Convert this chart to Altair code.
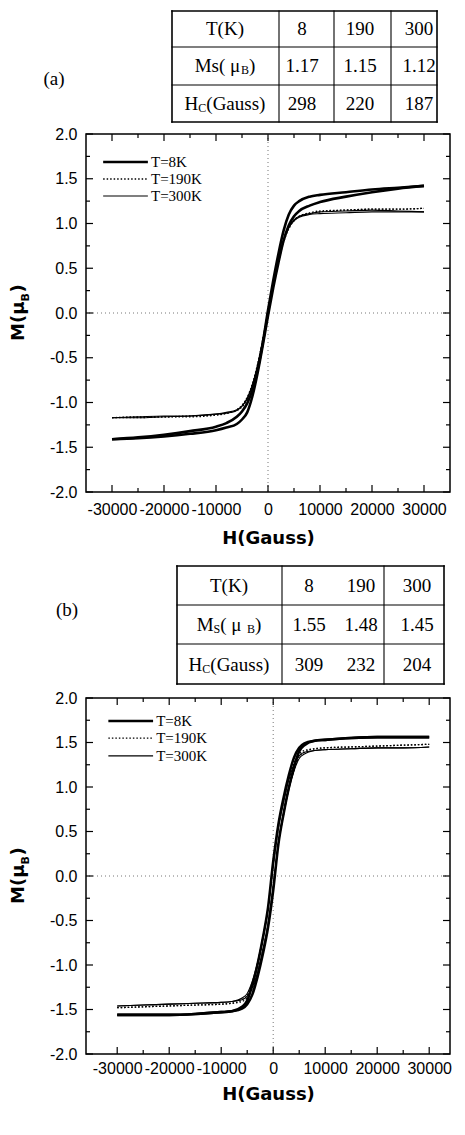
import altair as alt
import pandas as pd

# ---------------- data ----------------
H = [-30000, -25000, -20000, -15000, -10000, -8000, -6000, -5000, -4000, -3000,
     -2000, -1000, 0, 1000, 2000, 3000, 4000, 5000, 6000, 8000, 10000, 15000,
     20000, 25000, 30000]

# panel (a)
A_8K_DESC = [-1.41, -1.39, -1.36, -1.32, -1.27, -1.23, -1.16, -1.10, -1.01, -0.86,
             -0.63, -0.33, 0.03, 0.36, 0.66, 0.92, 1.10, 1.20, 1.25, 1.30, 1.32, 1.35,
             1.38, 1.40, 1.42]
A_8K_ASC = [-1.41, -1.40, -1.38, -1.35, -1.31, -1.28, -1.24, -1.19, -1.11, -0.93,
            -0.67, -0.36, -0.03, 0.28, 0.56, 0.81, 0.98, 1.08, 1.14, 1.20, 1.24, 1.30,
            1.35, 1.39, 1.42]
A_190K_DESC = [-1.17, -1.16, -1.16, -1.15, -1.14, -1.12, -1.08, -1.03, -0.94, -0.79,
               -0.57, -0.29, 0.03, 0.33, 0.60, 0.81, 0.96, 1.04, 1.08, 1.12, 1.14, 1.15,
               1.16, 1.16, 1.17]
A_190K_ASC = [-1.17, -1.17, -1.16, -1.16, -1.14, -1.12, -1.09, -1.05, -0.97, -0.82,
              -0.61, -0.33, -0.03, 0.29, 0.57, 0.79, 0.94, 1.03, 1.08, 1.11, 1.13, 1.15,
              1.16, 1.16, 1.17]
A_300K_DESC = [-1.17, -1.17, -1.16, -1.15, -1.13, -1.12, -1.09, -1.04, -0.95, -0.80,
               -0.58, -0.30, 0.02, 0.33, 0.60, 0.81, 0.96, 1.04, 1.08, 1.11, 1.13, 1.14,
               1.15, 1.14, 1.13]
A_300K_ASC = [-1.17, -1.16, -1.15, -1.15, -1.13, -1.11, -1.08, -1.04, -0.96, -0.81,
              -0.60, -0.33, -0.02, 0.30, 0.58, 0.80, 0.95, 1.03, 1.07, 1.10, 1.11, 1.12,
              1.13, 1.13, 1.13]

# panel (b)
B_8K_DESC = [-1.56, -1.56, -1.56, -1.55, -1.53, -1.52, -1.47, -1.40, -1.22, -0.99,
             -0.70, -0.36, 0.16, 0.58, 0.88, 1.13, 1.33, 1.44, 1.49, 1.52, 1.53, 1.55,
             1.56, 1.56, 1.56]
B_8K_ASC = [-1.56, -1.56, -1.56, -1.55, -1.53, -1.52, -1.49, -1.44, -1.33, -1.13,
            -0.88, -0.58, -0.16, 0.36, 0.70, 0.99, 1.22, 1.40, 1.47, 1.52, 1.53, 1.55,
            1.56, 1.56, 1.56]
B_190K_DESC = [-1.48, -1.47, -1.46, -1.45, -1.44, -1.43, -1.39, -1.34, -1.19, -0.98,
               -0.70, -0.36, 0.13, 0.55, 0.84, 1.09, 1.27, 1.37, 1.41, 1.43, 1.44, 1.45,
               1.46, 1.47, 1.48]
B_190K_ASC = [-1.48, -1.47, -1.46, -1.45, -1.44, -1.43, -1.41, -1.37, -1.27, -1.09,
              -0.84, -0.55, -0.13, 0.36, 0.70, 0.98, 1.19, 1.34, 1.39, 1.43, 1.44, 1.45,
              1.46, 1.47, 1.48]
B_300K_DESC = [-1.46, -1.45, -1.44, -1.43, -1.42, -1.41, -1.37, -1.32, -1.18, -0.97,
               -0.69, -0.36, 0.12, 0.54, 0.83, 1.08, 1.25, 1.35, 1.39, 1.41, 1.42, 1.43,
               1.44, 1.44, 1.45]
B_300K_ASC = [-1.46, -1.45, -1.44, -1.43, -1.42, -1.41, -1.39, -1.35, -1.25, -1.08,
              -0.83, -0.54, -0.12, 0.36, 0.69, 0.97, 1.18, 1.32, 1.37, 1.41, 1.42, 1.43,
              1.44, 1.44, 1.45]

TEMPS = ["8K", "190K", "300K"]
LEG_LABELS = ["T=8K", "T=190K", "T=300K"]
LEG_M_A = [1.687, 1.497, 1.307]
LEG_M_B = [1.742, 1.55, 1.35]
LEG_H = [-31700, -23100, -22500]   # legend line start, line end, text start

X_MAJOR = [-30000, -20000, -10000, 0, 10000, 20000, 30000]
X_MINOR = [-25000, -15000, -5000, 5000, 15000, 25000]
Y_MAJOR = [-2.0, -1.5, -1.0, -0.5, 0.0, 0.5, 1.0, 1.5, 2.0]
Y_MINOR = [-1.75, -1.25, -0.75, -0.25, 0.25, 0.75, 1.25, 1.75]

# tables
TAB_HEAD = ["8", "190", "300"]
TAB_A_MS = ["1.17", "1.15", "1.12"]
TAB_A_HC = ["298", "220", "187"]
TAB_B_MS = ["1.55", "1.48", "1.45"]
TAB_B_HC = ["309", "232", "204"]

# table layout (x: reference-page pixels, y: chart pixels)
TAB_A_COLS = [183, 290, 345, 402, 448]
TAB_A_ROWS = [10, 46, 84, 121]
TAB_A_TX = [236, 313, 371, 430]
TAB_A_TY = [28, 65, 103]
TAB_B_COLS = [188, 293, 395, 455]
TAB_B_ROWS = [565, 604, 643, 683]
TAB_B_TX = [240, 320, 372, 428]
TAB_B_TY = [585, 624, 664]

STYLE = {"8K": {"strokeWidth": 2.6},
         "190K": {"strokeWidth": 1.3, "strokeDash": [1.5, 2]},
         "300K": {"strokeWidth": 1.1}}

PW = 364
SERIF = "Liberation Serif"
TIMES_W = {'T': .611, '(': .333, 'K': .722, ')': .333, 'M': .889, 's': .389, ' ': .25,
           'μ': .576, 'B': .667, 'H': .722, 'C': .667, 'G': .722, 'a': .444, 'u': .5,
           'S': .556}


def curves_frame(series):
    rows = []
    for temp, branches in series.items():
        for branch, vals in branches.items():
            for h, m in zip(H, vals):
                rows.append({"H": h, "M": m, "temp": temp, "branch": temp + branch})
    return pd.DataFrame(rows)


def panel(series, leg_m, height, xdom, label_pad, title_pad):
    xs = alt.Scale(domain=xdom, nice=False, zero=False)
    ys = alt.Scale(domain=[-2, 2], nice=False, zero=False)
    xax = alt.Axis(values=X_MAJOR, title="H(Gauss)", labelExpr="'' + datum.value",
                   ticks=False, tickSize=0, domain=False, grid=False, labelPadding=label_pad,
                   titlePadding=title_pad, labelOverlap=False, labelFlush=False)
    yax = alt.Axis(values=Y_MAJOR, title=None,
                   labelExpr="replace(format(datum.value, '.1f'), '\u2212', '-')",
                   ticks=False, tickSize=0, domain=False, grid=False, labelPadding=9,
                   labelOverlap=False, labelFlush=False)

    def X(f):
        return alt.X(f, type="quantitative", scale=xs, axis=xax)

    def Y(f):
        return alt.Y(f, type="quantitative", scale=ys, axis=yax)

    layers = []
    zero = pd.DataFrame({"v": [0]})
    layers.append(alt.Chart(zero).mark_rule(color="#777", strokeDash=[1, 3], strokeWidth=1)
                  .encode(x=X("v")))
    layers.append(alt.Chart(zero).mark_rule(color="#777", strokeDash=[1, 3], strokeWidth=1)
                  .encode(y=Y("v")))

    for vals, ln in ((X_MAJOR, 7), (X_MINOR, 4)):
        d = pd.DataFrame({"v": vals})
        layers.append(alt.Chart(d).mark_rule(color="black", strokeWidth=1.2)
                      .encode(x=X("v"), y=alt.value(height), y2=alt.value(height - ln)))
        layers.append(alt.Chart(d).mark_rule(color="black", strokeWidth=1.2)
                      .encode(x=X("v"), y=alt.value(0), y2=alt.value(ln)))
    for vals, ln in ((Y_MAJOR, 7), (Y_MINOR, 4)):
        d = pd.DataFrame({"v": vals})
        layers.append(alt.Chart(d).mark_rule(color="black", strokeWidth=1.2)
                      .encode(y=Y("v"), x=alt.value(0), x2=alt.value(ln)))
        layers.append(alt.Chart(d).mark_rule(color="black", strokeWidth=1.2)
                      .encode(y=Y("v"), x=alt.value(PW), x2=alt.value(PW - ln)))

    df = curves_frame(series)
    for t in ["300K", "190K", "8K"]:
        layers.append(alt.Chart(df).transform_filter(alt.datum.temp == t)
                      .mark_line(interpolate="monotone", color="black", **STYLE[t])
                      .encode(x=X("H"), y=Y("M"), detail="branch:N", order="H:Q"))

    leg = pd.DataFrame({"label": LEG_LABELS, "temp": TEMPS, "M": leg_m,
                        "h1": [LEG_H[0]] * 3, "h2": [LEG_H[1]] * 3, "ht": [LEG_H[2]] * 3})
    for t in TEMPS:
        layers.append(alt.Chart(leg).transform_filter(alt.datum.temp == t)
                      .mark_rule(color="black", **STYLE[t])
                      .encode(x=X("h1"), x2=alt.X2("h2"), y=Y("M")))
    layers.append(alt.Chart(leg).mark_text(align="left", baseline="middle", font=SERIF,
                                           fontSize=15, color="black")
                  .encode(x=X("ht"), y=Y("M"), text="label:N"))

    yb = height / 2 + 28
    for txt, fs, dx, dy in (("M(μ", 18, 0, 0), ("B", 11, 39.5, 5), (")", 18, 48.5, 0)):
        layers.append(alt.Chart(pd.DataFrame({"t": [txt]}))
                      .mark_text(angle=270, align="left", baseline="alphabetic",
                                 font="DejaVu Sans", fontWeight="bold", fontSize=fs,
                                 dx=dx, dy=dy, color="black")
                      .encode(text="t:N", x=alt.value(-62), y=alt.value(yb)))
    return alt.layer(*layers).properties(width=PW, height=height)


def seg_rows(cx, cy, segs):
    def w(s, fs):
        return sum(TIMES_W.get(ch, .5) for ch in s) * fs
    total = sum(w(s, fs) for s, fs, dy in segs)
    x = cx - total / 2
    out = []
    for s, fs, dy in segs:
        out.append({"x": x, "y": cy + dy, "text": s, "fs": fs})
        x += w(s, fs)
    return out


def table(cols, rows_, tx, ty, ms_vals, hc_vals, ms_segs, tag, tag_xy, ydom, height):
    sx = alt.Scale(domain=[97, 97 + PW], nice=False, zero=False)
    sy = alt.Scale(domain=ydom, nice=False, zero=False, reverse=True)
    segs = []
    for i, y in enumerate(rows_):
        segs.append({"x": cols[0], "x2": cols[-1], "y": y, "y2": y,
                     "w": 1.6 if i in (0, len(rows_) - 1) else 1.1})
    for j, x in enumerate(cols):
        segs.append({"x": x, "x2": x, "y": rows_[0], "y2": rows_[-1],
                     "w": 1.6 if j in (0, len(cols) - 1) else 1.1})
    lines = alt.Chart(pd.DataFrame(segs)).mark_rule(color="black", strokeCap="square").encode(
        x=alt.X("x:Q", scale=sx, axis=None), x2="x2:Q",
        y=alt.Y("y:Q", scale=sy, axis=None), y2="y2:Q",
        strokeWidth=alt.StrokeWidth("w:Q", scale=None, legend=None))

    centered = [{"x": tx[0], "y": ty[0], "text": "T(K)", "fs": 19},
                {"x": tag_xy[0], "y": tag_xy[1], "text": tag, "fs": 19}]
    for k in range(3):
        centered.append({"x": tx[k + 1], "y": ty[0], "text": TAB_HEAD[k], "fs": 19})
        centered.append({"x": tx[k + 1], "y": ty[1], "text": ms_vals[k], "fs": 19})
        centered.append({"x": tx[k + 1], "y": ty[2], "text": hc_vals[k], "fs": 19})
    ctext = alt.Chart(pd.DataFrame(centered)).mark_text(
        align="center", baseline="middle", font=SERIF, color="black").encode(
        x=alt.X("x:Q", scale=sx, axis=None), y=alt.Y("y:Q", scale=sy, axis=None),
        text="text:N", size=alt.Size("fs:Q", scale=None, legend=None))

    left = seg_rows(tx[0], ty[1], ms_segs) + seg_rows(
        tx[0], ty[2], [("H", 19, 0), ("C", 12, 4), ("(Gauss)", 19, 0)])
    ltext = alt.Chart(pd.DataFrame(left)).mark_text(
        align="left", baseline="middle", font=SERIF, color="black").encode(
        x=alt.X("x:Q", scale=sx, axis=None), y=alt.Y("y:Q", scale=sy, axis=None),
        text="text:N", size=alt.Size("fs:Q", scale=None, legend=None))
    return alt.layer(lines, ctext, ltext).properties(
        width=PW, height=height, view=alt.ViewBackground(stroke="transparent"))


series_a = {"8K": {"d": A_8K_DESC, "a": A_8K_ASC},
            "190K": {"d": A_190K_DESC, "a": A_190K_ASC},
            "300K": {"d": A_300K_DESC, "a": A_300K_ASC}}
series_b = {"8K": {"d": B_8K_DESC, "a": B_8K_ASC},
            "190K": {"d": B_190K_DESC, "a": B_190K_ASC},
            "300K": {"d": B_300K_DESC, "a": B_300K_ASC}}

# page layout: table A 9..133, plot A 133..491, table B 491..697, plot B 697..1053
tA = table(TAB_A_COLS, TAB_A_ROWS, TAB_A_TX, TAB_A_TY, TAB_A_MS, TAB_A_HC,
           [("Ms( μ", 19, 0), ("B", 12, 4), (")", 19, 0)], "(a)", (65, 78), [9, 133], 124)
pA = panel(series_a, LEG_M_A, 358, [-35000, 35000], 9, 12)
tB = table(TAB_B_COLS, TAB_B_ROWS, TAB_B_TX, TAB_B_TY, TAB_B_MS, TAB_B_HC,
           [("M", 19, 0), ("S", 12, 4), ("( μ ", 19, 0), ("B", 12, 4), (")", 19, 0)],
           "(b)", (78, 609), [491, 697], 206)
pB = panel(series_b, LEG_M_B, 356, [-36000, 34000], 6, 9)

chart = alt.vconcat(tA, pA, tB, pB, spacing=0, bounds="flush").properties(
    padding={"left": 1, "top": 1, "right": 0, "bottom": 1}, background="white"
).configure_view(stroke="black", strokeWidth=1.5).configure_axis(
    labelFont="Liberation Sans", labelFontSize=16, labelColor="black",
    titleFont="DejaVu Sans", titleFontSize=18, titleFontWeight="bold", titleColor="black")

chart.save("out.html", embed_options={"renderer": "svg", "actions": False})
